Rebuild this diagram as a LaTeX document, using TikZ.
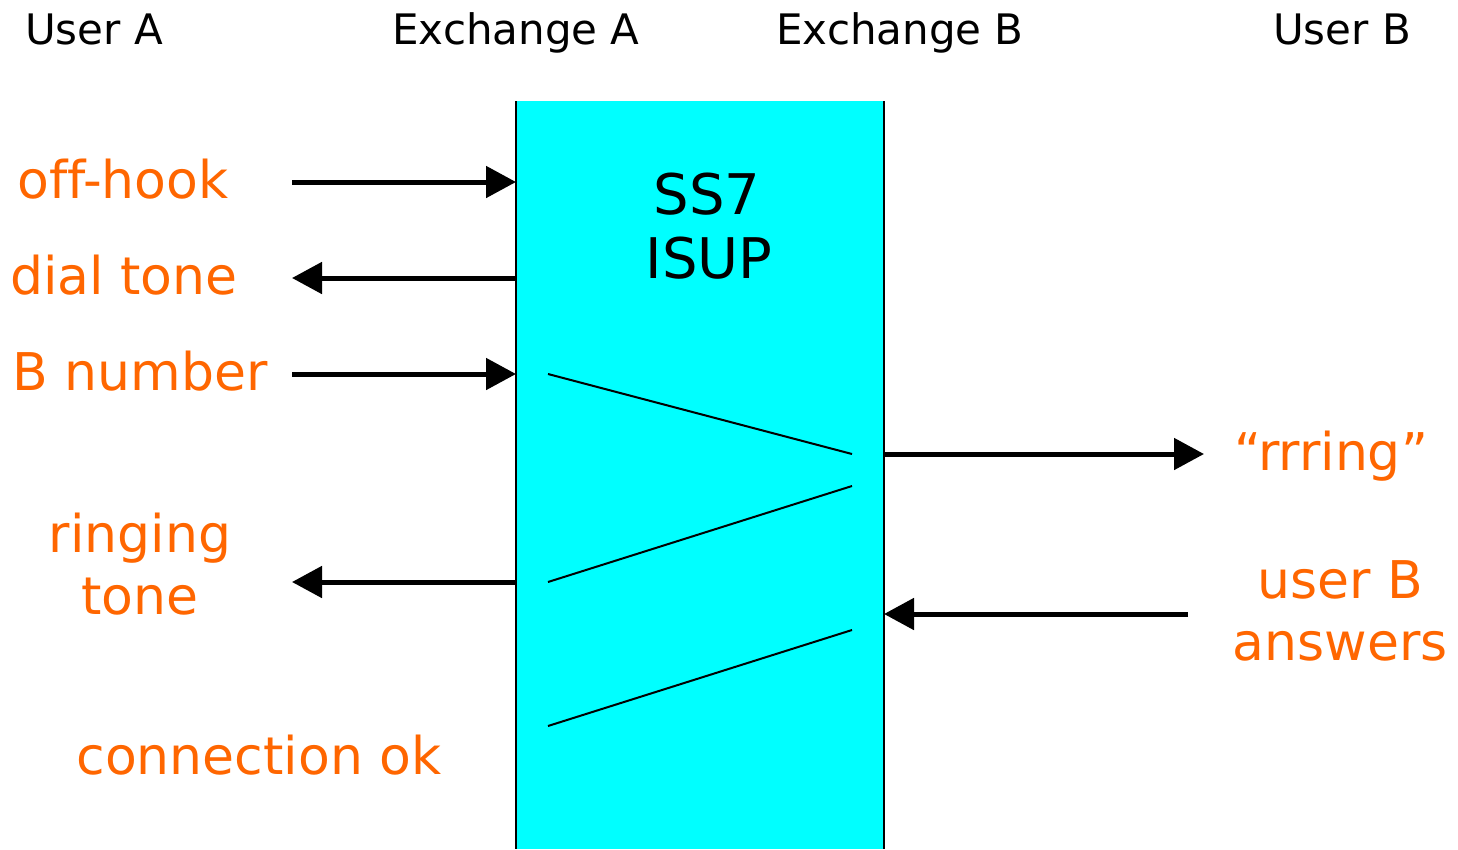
\documentclass[tikz,border=0pt]{standalone}
\usepackage{fontspec}
\setmainfont[Ligatures=NoCommon]{DejaVu Sans}
\usetikzlibrary{arrows.meta}
\definecolor{lbl}{HTML}{FF6600}
\definecolor{box}{HTML}{00FFFF}
\begin{document}
\begin{tikzpicture}[x=1pt,y=-1pt,
  hdr/.style={anchor=base,inner sep=0pt,font=\fontsize{42}{50}\selectfont},
  lab/.style={anchor=base,inner sep=0pt,text=lbl,font=\fontsize{52}{62}\selectfont,align=center},
  core/.style={anchor=base,inner sep=0pt,font=\fontsize{56}{64}\selectfont},
  sig/.style={line width=5pt,-{Triangle[length=30pt,width=31pt]}},
  msg/.style={line width=2pt}]
\useasboundingbox (0,0) rectangle (1458,849);
% exchange body
\fill[box] (516,101) rectangle (884,849);
\draw[line width=2pt] (516,101) -- (516,849);
\draw[line width=2pt] (884,101) -- (884,849);
% column headings
\node[hdr] (ua) at (94,44) {User A};
\node[hdr] (xa) at (516,44) {Exchange A};
\node[hdr] (xb) at (900,44) {Exchange B};
\node[hdr] (ub) at (1342,44) {User B};
% protocol name
\node[core] (ss7) at (707,214) {SS7};
\node[core] (isup) at (709,278) {ISUP};
% user A side labels
\node[lab] (offhook) at (123,198) {off-hook};
\node[lab] (dial) at (124,294) {dial tone};
\node[lab] (bnum) at (140,390) {B number};
\node[lab] (ring1) at (140,552) {ringing};
\node[lab] (ring2) at (140,614) {tone};
\node[lab] (conn) at (259,774) {connection ok};
% user B side labels
\node[lab] (rrring) at (1331,470) {“rrring”};
\node[lab] (ans1) at (1340,598) {user B};
\node[lab] (ans2) at (1340,660) {answers};
% arrow end points
\coordinate (a1) at (292,182); \coordinate (b1) at (516,182);
\coordinate (a2) at (292,278); \coordinate (b2) at (516,278);
\coordinate (a3) at (292,374); \coordinate (b3) at (516,374);
\coordinate (a4) at (292,582); \coordinate (b4) at (516,582);
\coordinate (c1) at (884,454); \coordinate (d1) at (1204,454);
\coordinate (c2) at (884,614); \coordinate (d2) at (1188,614);
% subscriber signals
\draw[sig] (a1) -- (b1);
\draw[sig] (b2) -- (a2);
\draw[sig] (a3) -- (b3);
\draw[sig] (b4) -- (a4);
\draw[sig] (c1) -- (d1);
\draw[sig] (d2) -- (c2);
% inter-exchange messages
\coordinate (m1a) at (548,374); \coordinate (m1b) at (852,454);
\coordinate (m2a) at (852,486); \coordinate (m2b) at (548,582);
\coordinate (m3a) at (852,630); \coordinate (m3b) at (548,726);
\draw[msg] (m1a) -- (m1b);
\draw[msg] (m2a) -- (m2b);
\draw[msg] (m3a) -- (m3b);
\end{tikzpicture}
\end{document}
